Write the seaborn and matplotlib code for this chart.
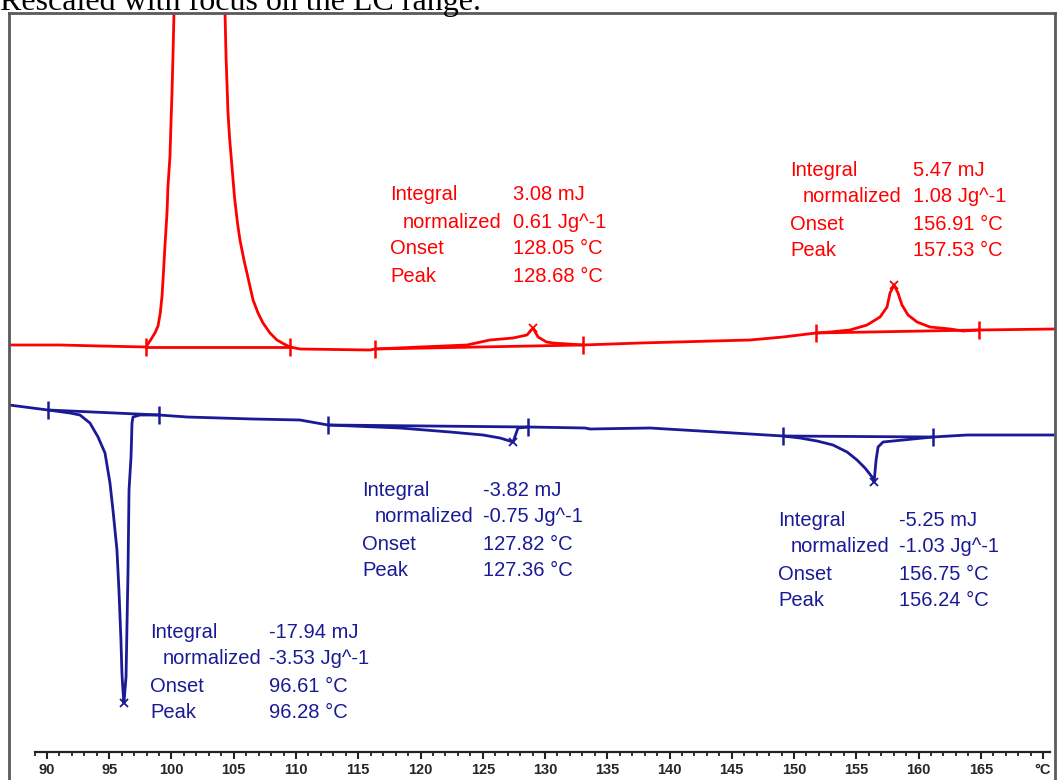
"""
DSC thermogram (heating = red, cooling = blue), rescaled to the LC range
"""
import matplotlib
matplotlib.use("Agg")
import matplotlib.pyplot as plt
from matplotlib.ticker import FixedLocator
import seaborn as sns

# ---- heating run (red), temperature in °C and heat flow in arbitrary units ----
heat_T = [86.95, 91.04, 94.26, 97.95, 98.27, 98.67, 98.92, 99.10, 99.24, 99.32, 99.48,
          99.64, 99.72, 99.88, 99.96, 100.04, 100.12, 100.20, 102.2, 104.30, 104.38,
          104.54, 104.66, 104.82, 105.06, 105.30, 105.50, 105.82, 106.06, 106.55,
          106.95, 107.35, 107.91, 108.47, 109.04, 109.52, 110.32, 115.94, 116.35,
          119.96, 123.73, 125.58, 127.43, 128.55, 129.04, 129.44, 130.12, 130.64,
          133.05, 137.63, 146.47, 149.12, 151.77, 152.89, 154.50, 155.86, 156.91,
          157.47, 157.71, 158.03, 158.35, 158.67, 159.16, 159.88, 160.92, 162.53,
          163.57, 164.86, 170.96]
heat_mW = [0.00, 0.00, -0.01, -0.02, 0.04, 0.12, 0.19, 0.32, 0.49, 0.65, 1.00,
           1.32, 1.59, 1.89, 2.22, 2.52, 2.89, 3.32, 5.00, 3.32, 2.89,
           2.32, 2.08, 1.84, 1.48, 1.22, 1.05, 0.85, 0.72, 0.45,
           0.32, 0.22, 0.12, 0.05, 0.01, -0.02, -0.04, -0.05, -0.04,
           -0.02, 0.00, 0.05, 0.07, 0.10, 0.17, 0.08, 0.03, 0.02,
           0.00, 0.02, 0.05, 0.08, 0.12, 0.13, 0.15, 0.20, 0.28,
           0.38, 0.52, 0.60, 0.52, 0.40, 0.30, 0.23, 0.18, 0.16,
           0.14, 0.15, 0.16]

# ---- cooling run (blue) ----
cool_T = [86.95, 90.08, 91.85, 92.65, 93.45, 94.10, 94.66, 95.06, 95.30, 95.62, 95.78,
          95.94, 96.02, 96.10, 96.18, 96.35, 96.43, 96.51, 96.59, 96.75, 96.83,
          96.91, 97.47, 98.51, 99.00, 101.24, 106.55, 110.32, 112.57, 118.35,
          122.37, 125.02, 126.39, 127.43, 127.83, 128.63, 133.21, 133.61, 138.43,
          146.47, 149.12, 150.48, 151.85, 153.13, 154.26, 155.06, 155.70, 156.27,
          156.43, 156.59, 156.75, 157.15, 157.95, 159.56, 161.16, 163.90, 170.96]
cool_mW = [-0.60, -0.65, -0.68, -0.70, -0.78, -0.92, -1.08, -1.38, -1.65, -2.05, -2.45,
           -2.95, -3.28, -3.45, -3.58, -3.32, -2.78, -2.25, -1.45, -1.12, -0.78,
           -0.72, -0.70, -0.70, -0.70, -0.72, -0.74, -0.75, -0.80, -0.83,
           -0.87, -0.90, -0.93, -0.97, -0.83, -0.82, -0.83, -0.84, -0.83,
           -0.89, -0.91, -0.93, -0.96, -1.00, -1.07, -1.15, -1.23, -1.32,
           -1.37, -1.15, -1.02, -0.97, -0.96, -0.94, -0.92, -0.90, -0.90]

# integration limits (start, end) of each evaluated peak
heat_limits_T = [(97.95, 109.52), (116.35, 133.05), (151.77, 164.86)]
heat_limits_mW = [(-0.02, -0.02), (-0.04, 0.00), (0.12, 0.15)]
cool_limits_T = [(90.08, 99.00), (112.57, 128.63), (149.12, 161.16)]
cool_limits_mW = [(-0.65, -0.70), (-0.80, -0.82), (-0.91, -0.92)]

# peak positions marked with an x
heat_peak_T = [129.04, 158.03]
heat_peak_mW = [0.17, 0.60]
cool_peak_T = [96.18, 127.43, 156.43]
cool_peak_mW = [-3.58, -0.97, -1.37]

# evaluation results
heat_values = [["3.08 mJ", "0.61 Jg^-1", "128.05 °C", "128.68 °C"],
               ["5.47 mJ", "1.08 Jg^-1", "156.91 °C", "157.53 °C"]]
cool_values = [["-17.94 mJ", "-3.53 Jg^-1", "96.61 °C", "96.28 °C"],
               ["-3.82 mJ", "-0.75 Jg^-1", "127.82 °C", "127.36 °C"],
               ["-5.25 mJ", "-1.03 Jg^-1", "156.75 °C", "156.24 °C"]]
row_names = ["Integral", "normalized", "Onset", "Peak"]

tick_temps = list(range(90, 171, 5))
minor_temps = list(range(89, 171))
tick_labels = [str(t) for t in range(90, 166, 5)] + ["°C"]

RED = "#ff0000"
BLUE = "#1a1a96"

sns.set_style("white")
plt.rcParams["font.family"] = ["Liberation Sans", "DejaVu Sans"]

fig = plt.figure(figsize=(10.58, 7.8), dpi=100)
ax = fig.add_axes([9 / 1058, 0.0, 1046 / 1058, 767 / 780])
ax.set_xlim(86.95, 170.96)
ax.set_ylim(-4.35, 3.32)

# curves
sns.lineplot(x=heat_T, y=heat_mW, sort=False, estimator=None, color=RED, lw=2.0, ax=ax)
sns.lineplot(x=cool_T, y=cool_mW, sort=False, estimator=None, color=BLUE, lw=2.0, ax=ax)

# integration baselines and limit marks
for lims_T, lims_mW, col in [(heat_limits_T, heat_limits_mW, RED),
                             (cool_limits_T, cool_limits_mW, BLUE)]:
    for (t0, t1), (y0, y1) in zip(lims_T, lims_mW):
        ax.plot([t0, t1], [y0, y1], color=col, lw=2.0)
        ax.plot([t0, t1], [y0, y1], ls="none", marker="|", ms=13, mew=1.8, color=col)

ax.plot(heat_peak_T, heat_peak_mW, ls="none", marker="x", ms=6, mew=1.3, color=RED)
ax.plot(cool_peak_T, cool_peak_mW, ls="none", marker="x", ms=6, mew=1.3, color=BLUE)

# result tables: (label column T, value column T, first row heat flow)
step = 0.27
indent = 1.04
blocks = [(heat_values[0], RED, 117.55, 127.43, 1.50),
          (heat_values[1], RED, 149.68, 159.56, 1.75),
          (cool_values[0], BLUE, 98.27, 107.80, -2.87),
          (cool_values[1], BLUE, 115.30, 125.02, -1.45),
          (cool_values[2], BLUE, 148.71, 158.45, -1.75)]
for vals, col, xl, xv, y0 in blocks:
    for i, (name, val) in enumerate(zip(row_names, vals)):
        y = y0 - i * step
        ax.text(xl + (indent if i == 1 else 0), y, name, color=col, fontsize=14.5,
                va="center", ha="left")
        ax.text(xv, y, val, color=col, fontsize=14.5, va="center", ha="left")

# frame and temperature ruler
for side in ["left", "right", "top"]:
    ax.spines[side].set_color("#5a5a5a")
    ax.spines[side].set_linewidth(2.0)
ax.spines["bottom"].set_position(("data", -4.07))
ax.spines["bottom"].set_bounds(89.04, 170.56)
ax.spines["bottom"].set_color("#222222")
ax.spines["bottom"].set_linewidth(1.6)
ax.set_yticks([])
ax.xaxis.set_major_locator(FixedLocator(tick_temps))
ax.set_xticklabels(tick_labels, fontsize=10.5, fontweight="bold", family="Liberation Sans")
ax.xaxis.set_minor_locator(FixedLocator(minor_temps))
ax.tick_params(axis="x", which="major", direction="out", length=5, width=1.5,
               color="#222222", pad=3, bottom=True)
ax.tick_params(axis="x", which="minor", direction="out", length=3, width=1.3,
               color="#222222", bottom=True)
ax.set_xlabel("")
ax.set_ylabel("")

fig.text(0.0, 1 - 10 / 780, "Rescaled with focus on the LC range.", ha="left",
         va="baseline", fontsize=23, family="Liberation Serif", color="black")

fig.savefig("out.png", dpi=100)
